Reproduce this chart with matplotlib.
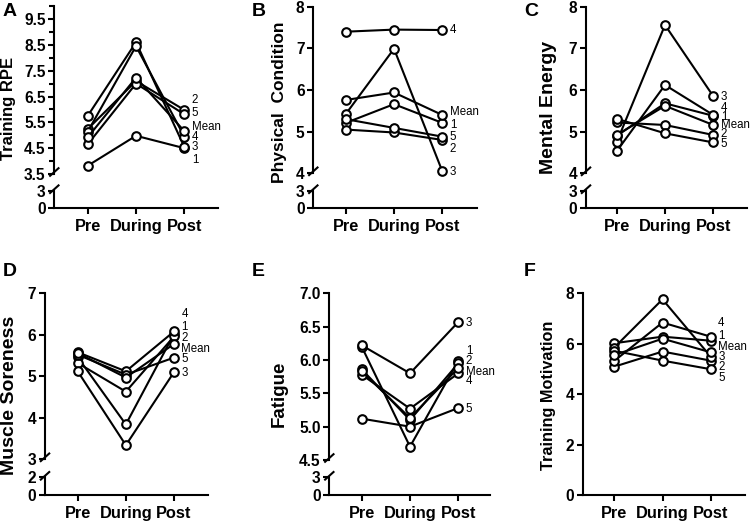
import matplotlib
matplotlib.use("Agg")
import matplotlib.pyplot as plt
from matplotlib.lines import Line2D

plt.rcParams['font.family'] = ['Liberation Sans', 'DejaVu Sans']

# ---------------- data ----------------
timepoints = ["Pre", "During", "Post"]
series_names = ["1", "2", "3", "4", "5", "Mean"]

training_rpe = [
    [3.82, 4.98, 4.50],
    [5.24, 7.10, 5.98],
    [5.75, 8.60, 4.55],
    [5.14, 8.45, 4.95],
    [4.65, 7.00, 5.81],
    [4.92, 7.23, 5.16],
]
physical_condition = [
    [5.21, 5.66, 5.21],
    [5.05, 4.98, 4.80],
    [5.42, 6.99, 4.05],
    [7.40, 7.45, 7.44],
    [5.30, 5.09, 4.88],
    [5.76, 5.94, 5.40],
]
mental_energy = [
    [4.90, 5.68, 5.38],
    [5.22, 5.16, 4.92],
    [4.75, 7.56, 5.85],
    [4.53, 6.12, 5.40],
    [5.31, 4.96, 4.74],
    [4.92, 5.62, 5.16],
]
muscle_soreness = [
    [5.46, 3.84, 6.02],
    [5.32, 4.63, 5.96],
    [5.12, 3.34, 5.10],
    [5.58, 5.12, 6.08],
    [5.52, 5.04, 5.45],
    [5.56, 4.97, 5.78],
]
fatigue = [
    [6.20, 4.70, 5.99],
    [5.86, 5.10, 5.95],
    [6.22, 5.80, 6.57],
    [5.78, 5.27, 5.80],
    [5.12, 5.00, 5.28],
    [5.83, 5.13, 5.88],
]
training_motivation = [
    [6.02, 6.28, 6.12],
    [5.09, 5.69, 5.33],
    [5.85, 7.76, 5.49],
    [5.32, 6.84, 6.28],
    [5.72, 5.33, 4.99],
    [5.55, 6.20, 5.66],
]

# ---------------- layout (pixel geometry, label placement) ----------------
W, H = 750, 524
panels = [
    dict(letter="A", ylabel="Training RPE", data=training_rpe, lab_fs=12.0,
         lab_xy=(9, 108), letter_xy=(3, 3),
         sx=54.3, ex=218.3, pre=87.7, post=184.3,
         top=6.1, brk=174.0, lotop=190.7, zero=208.3,
         ylim=(3.5, 10.0), yticks=[3.5, 4.5, 5.5, 6.5, 7.5, 8.5, 9.5],
         yticklabels=["3.5", "4.5", "5.5", "6.5", "7.5", "8.5", "9.5"],
         minor=[4, 5, 6, 7, 8, 9, 10],
         lolim=(0, 3), loticks=[0, 3],
         label_y=[4.05, 6.37, 4.56, 4.95, 5.85, 5.33]),
    dict(letter="B", ylabel="Physical  Condition", data=physical_condition, lab_fs=12.5,
         lab_xy=(279.5, 102), letter_xy=(252, 3),
         sx=313.3, ex=476.7, pre=345.7, post=442.3,
         top=6.7, brk=173.3, lotop=190.7, zero=208.3,
         ylim=(4, 8), yticks=[4, 5, 6, 7, 8],
         yticklabels=["4", "5", "6", "7", "8"],
         minor=[],
         lolim=(0, 3), loticks=[0, 3],
         label_y=[5.16, 4.58, 4.04, 7.44, 4.88, 5.48]),
    dict(letter="C", ylabel="Mental Energy", data=mental_energy, lab_fs=14.0,
         lab_xy=(548.5, 107), letter_xy=(524, 3),
         sx=586.0, ex=746.7, pre=616.7, post=713.3,
         top=6.7, brk=173.3, lotop=190.7, zero=208.3,
         ylim=(4, 8), yticks=[4, 5, 6, 7, 8],
         yticklabels=["4", "5", "6", "7", "8"],
         minor=[],
         lolim=(0, 3), loticks=[0, 3],
         label_y=[5.36, 4.94, 5.82, 5.56, 4.70, 5.16]),
    dict(letter="D", ylabel="Muscle Soreness", data=muscle_soreness, lab_fs=14.0,
         lab_xy=(9.5, 395), letter_xy=(3, 263),
         sx=45.0, ex=208.0, pre=77.7, post=174.0,
         top=293.3, brk=459.3, lotop=477.3, zero=495.0,
         ylim=(3, 7), yticks=[3, 4, 5, 6, 7],
         yticklabels=["3", "4", "5", "6", "7"],
         minor=[],
         lolim=(0, 2), loticks=[0, 2],
         label_y=[6.20, 5.93, 5.08, 6.50, 5.41, 5.66]),
    dict(letter="E", ylabel="Fatigue", data=fatigue, lab_fs=13.5,
         lab_xy=(279.5, 394), letter_xy=(252, 263),
         sx=329.3, ex=490.0, pre=361.7, post=458.3,
         top=293.3, brk=460.0, lotop=477.3, zero=495.0,
         ylim=(4.5, 7.0), yticks=[4.5, 5.0, 5.5, 6.0, 6.5, 7.0],
         yticklabels=["4.5", "5.0", "5.5", "6.0", "6.5", "7.0"],
         minor=[],
         lolim=(0, 3), loticks=[0, 3],
         label_y=[6.14, 5.99, 6.56, 5.69, 5.26, 5.82]),
    dict(letter="F", ylabel="Training Motivation", data=training_motivation, lab_fs=11.7,
         lab_xy=(548.5, 395), letter_xy=(524, 263),
         sx=582.7, ex=745.0, pre=614.3, post=710.7,
         top=293.3, brk=None, lotop=None, zero=495.0,
         ylim=(0, 8), yticks=[0, 2, 4, 6, 8],
         yticklabels=["0", "2", "4", "6", "8"],
         minor=[],
         lolim=None, loticks=None,
         label_y=[6.31, 5.09, 5.49, 6.81, 4.63, 5.86]),
]

TICK_FS = 11.2
XTICK_FS = 11.8
ANN_FS = 8.3
LW = 1.5


def rect(left, right, top, bottom):
    return [left / W, 1 - bottom / H, (right - left) / W, (bottom - top) / H]


def style_axis(ax):
    for s in ("top", "right"):
        ax.spines[s].set_visible(False)
    for s in ("left", "bottom"):
        ax.spines[s].set_linewidth(LW)
    ax.tick_params(axis="both", which="major", direction="out", length=4.5,
                   width=LW, labelsize=TICK_FS, pad=1.8)
    ax.tick_params(axis="y", which="minor", direction="out", length=3.5, width=LW)
    for t in ax.get_xticklabels() + ax.get_yticklabels():
        t.set_fontweight("bold")


def style_xlabels(ax):
    ax.tick_params(axis="x", pad=3.5, labelsize=XTICK_FS)
    for t in ax.get_xticklabels():
        t.set_fontweight("bold")


def break_mark(xpx, ypx):
    x0, y0 = (xpx - 5) / W, 1 - (ypx + 4.5) / H
    x1, y1 = (xpx + 5) / W, 1 - (ypx - 4.5) / H
    fig.add_artist(Line2D([x0, x1], [y0, y1], transform=fig.transFigure,
                          color="black", lw=LW, solid_capstyle="butt"))


fig = plt.figure(figsize=(W / 100, H / 100), dpi=100)
x = list(range(len(timepoints)))

for p in panels:
    sp = (p["post"] - p["pre"]) / 2.0
    xlim = ((p["sx"] - p["pre"]) / sp, 2 + (p["ex"] - p["post"]) / sp)
    has_break = p["brk"] is not None
    bottom_up = p["brk"] if has_break else p["zero"]
    ax = fig.add_axes(rect(p["sx"], p["ex"], p["top"], bottom_up))
    ax.patch.set_alpha(0)
    ax.set_xlim(*xlim)
    ax.set_ylim(*p["ylim"])
    for vals, name, ly in zip(p["data"], series_names, p["label_y"]):
        ax.plot(x, vals, color="black", lw=LW, marker="o", ms=6.2,
                mfc="white", mec="black", mew=1.5, clip_on=False, zorder=3)
        ax.text(2 + 7.5 / sp, ly, name, fontsize=ANN_FS, ha="left", va="center",
                clip_on=False)
    ax.set_yticks(p["yticks"])
    ax.set_yticklabels(p["yticklabels"])
    if p["minor"]:
        ax.set_yticks(p["minor"], minor=True)
    style_axis(ax)
    if has_break:
        ax.spines["bottom"].set_visible(False)
        ax.set_xticks([])
        lo = fig.add_axes(rect(p["sx"], p["ex"], p["lotop"], p["zero"]))
        lo.patch.set_alpha(0)
        lo.set_xlim(*xlim)
        lo.set_ylim(*p["lolim"])
        lo.set_yticks(p["loticks"])
        lo.set_yticklabels([str(v) for v in p["loticks"]])
        lo.set_xticks(x)
        lo.set_xticklabels(timepoints)
        style_axis(lo)
        style_xlabels(lo)
        break_mark(p["sx"], p["brk"] - 2)
        break_mark(p["sx"], p["lotop"] - 1.5)
    else:
        ax.set_xticks(x)
        ax.set_xticklabels(timepoints)
        style_axis(ax)
        style_xlabels(ax)

    fig.text(p["lab_xy"][0] / W, 1 - p["lab_xy"][1] / H, p["ylabel"], rotation=90,
             ha="center", va="center", fontsize=p["lab_fs"], fontweight="bold")
    fig.text(p["letter_xy"][0] / W, 1 - p["letter_xy"][1] / H, p["letter"],
             ha="left", va="top", fontsize=14, fontweight="bold")

fig.savefig("out.png", dpi=100)
